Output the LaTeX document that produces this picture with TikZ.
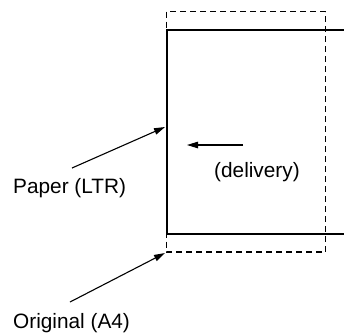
\documentclass[tikz,border=0pt]{standalone}
\usepackage{fontspec}
\setmainfont{Liberation Sans}
\usetikzlibrary{arrows.meta}

\begin{document}
\begin{tikzpicture}[x=1pt, y=-1pt,
    label/.style={inner sep=0pt, anchor=base west, font=\fontsize{20.8}{24}\selectfont},
    pointer/.style={-{Triangle[length=11pt, width=6.5pt]}, line width=1.1pt}]
    \useasboundingbox (0,0) rectangle (344,333);

    % original (dashed) and paper (solid)
    \draw [dashed, dash pattern=on 6pt off 4pt, line width=1.1pt] (166.5,11.5) rectangle (325.5,252);
    \draw [line width=2pt] (344,30) -- (166.5,30) -- (166.5,234) -- (344,234);

    \node [label] (paper) at (13,193) {Paper (LTR)};
    \node [label] (original) at (13,328) {Original (A4)};
    \node [label] (delivery) at (214,177) {(delivery)};

    \coordinate (paperfrom) at (72,168);
    \coordinate (paperto) at (165,127);
    \coordinate (origfrom) at (70,302);
    \coordinate (origto) at (165,253);
    \coordinate (delfrom) at (243,145);
    \coordinate (delto) at (187,145);

    \begin{scope}[pointer]
        \draw (paperfrom) -- (paperto);
        \draw (origfrom) -- (origto);
        \draw (delfrom) -- (delto);
    \end{scope}

\end{tikzpicture}
\end{document}
